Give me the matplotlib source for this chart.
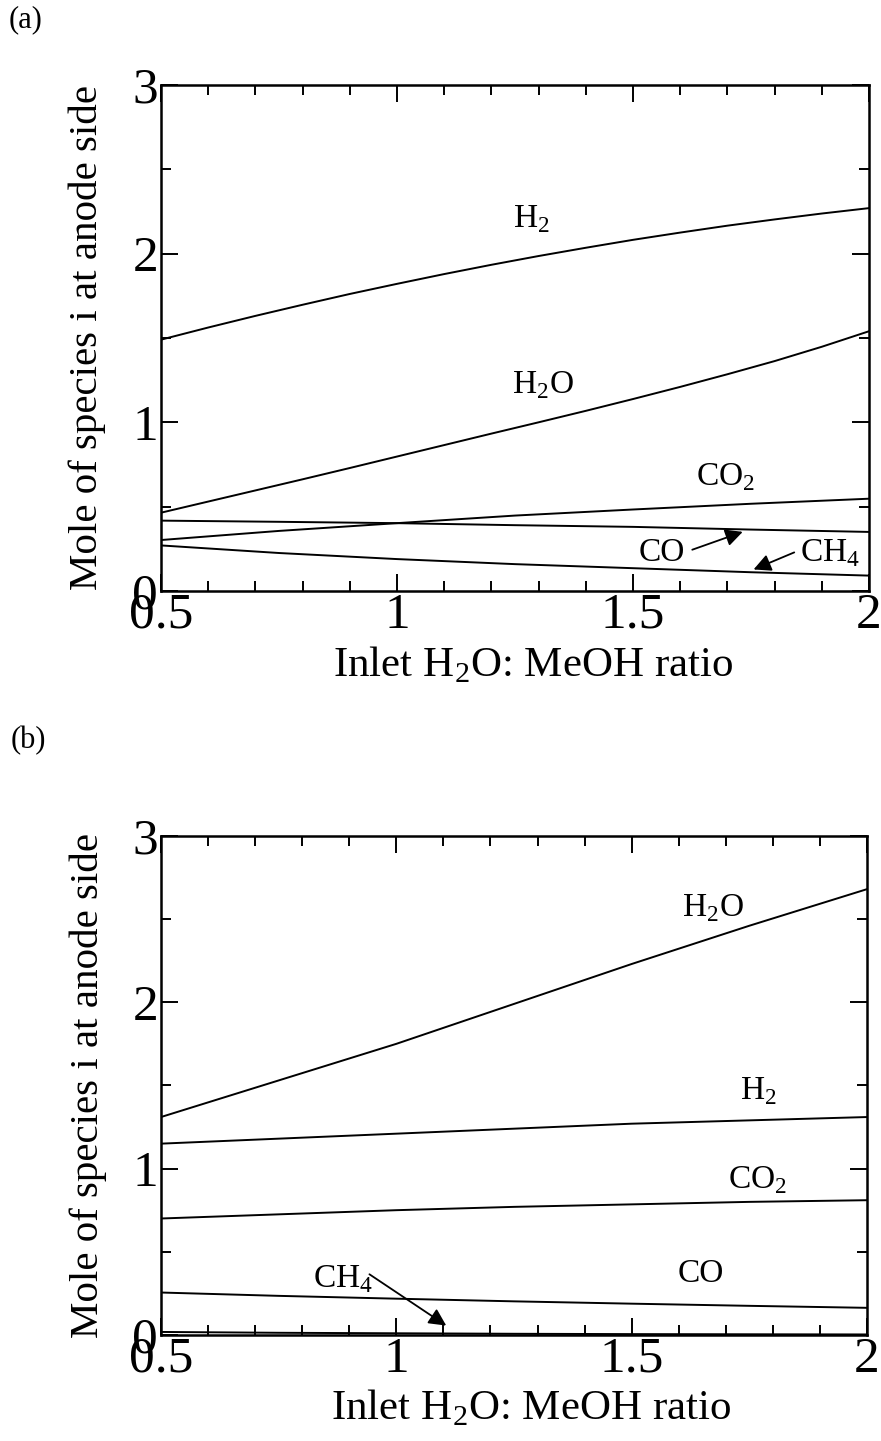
import numpy as np
import matplotlib
matplotlib.use("Agg")
import matplotlib.pyplot as plt
from matplotlib.ticker import MultipleLocator

plt.rcParams['font.family'] = ['Liberation Serif', 'DejaVu Serif']
plt.rcParams['mathtext.fontset'] = 'custom'
plt.rcParams['mathtext.rm'] = 'Liberation Serif'

# inlet H2O : MeOH ratio
ratio = [0.5, 0.75, 1.0, 1.25, 1.5, 1.75, 2.0]
ratio_f = [0.5, 0.6, 0.7, 0.8, 0.9, 1.0, 1.1, 1.2, 1.3, 1.4, 1.5, 1.6, 1.7, 1.8, 1.9, 2.0]

# (a) moles at anode side
a_h2 = [1.49, 1.562, 1.631, 1.697, 1.761, 1.821, 1.879, 1.934, 1.986, 2.035, 2.082, 2.125, 2.166, 2.203, 2.238, 2.27]
a_h2o = [0.464, 0.53, 0.596, 0.662, 0.729, 0.797, 0.865, 0.933, 1.0, 1.068, 1.138, 1.21, 1.285, 1.363, 1.448, 1.54]
a_co2 = [0.302, 0.356, 0.402, 0.447, 0.483, 0.517, 0.547]
a_co = [0.417, 0.41, 0.402, 0.39, 0.38, 0.364, 0.35]
a_ch4 = [0.27, 0.225, 0.189, 0.159, 0.135, 0.111, 0.091]

# (b) moles at anode side
b_h2o = [1.31, 1.53, 1.75, 1.99, 2.23, 2.46, 2.68]
b_h2 = [1.15, 1.18, 1.21, 1.24, 1.27, 1.29, 1.31]
b_co2 = [0.70, 0.725, 0.75, 0.77, 0.785, 0.80, 0.81]
b_co = [0.255, 0.235, 0.218, 0.202, 0.188, 0.175, 0.163]
b_ch4 = [0.018, 0.013, 0.01, 0.007, 0.005, 0.004, 0.003]

sub = lambda s: s.replace('2', r'$_\mathregular{2}$').replace('4', r'$_\mathregular{4}$')

fig = plt.figure(figsize=(8.81, 14.41), dpi=100)
ax1 = fig.add_axes([0.1827, 0.5899, 0.8037, 0.3511])
ax2 = fig.add_axes([0.1827, 0.0736, 0.8014, 0.3463])


def setup(ax):
    ax.set_xlim(0.5, 2)
    ax.set_ylim(0, 3)
    ax.xaxis.set_major_locator(MultipleLocator(0.5))
    ax.xaxis.set_minor_locator(MultipleLocator(0.1))
    ax.yaxis.set_major_locator(MultipleLocator(1))
    ax.yaxis.set_minor_locator(MultipleLocator(0.5))
    ax.xaxis.set_major_formatter(plt.FuncFormatter(lambda v, p: '%g' % v))
    ax.tick_params(which='both', direction='in', top=True, right=True, width=1.4)
    ax.tick_params(which='major', length=12, labelsize=37)
    ax.tick_params(which='minor', length=7)
    ax.tick_params(axis='x', pad=1)
    ax.tick_params(axis='y', pad=2)
    for s in ax.spines.values():
        s.set_linewidth(1.8)
    ax.set_xlabel('Inlet ' + sub('H2O') + ': MeOH ratio', fontsize=31)
    ax.set_ylabel('Mole of species i at anode side', fontsize=29.5)
    ax.xaxis.set_label_coords(0.525, -0.105)
    ax.yaxis.set_label_coords(-0.077, 0.5)


lw = 1.4
ap = dict(arrowstyle='-|>', color='k', lw=1.3, mutation_scale=26)
fs = 24

setup(ax1)
ax1.plot(ratio_f, a_h2, color='k', lw=lw)
ax1.plot(ratio_f, a_h2o, color='k', lw=lw)
for ys in [a_co2, a_co, a_ch4]:
    ax1.plot(ratio, ys, color='k', lw=lw)
ax1.text(1.284, 2.157, sub('H2'), fontsize=fs, ha='center', va='baseline')
ax1.text(1.31, 1.171, sub('H2O'), fontsize=fs, ha='center', va='baseline')
ax1.text(1.696, 0.628, sub('CO2'), fontsize=fs, ha='center', va='baseline')
ax1.text(1.562, 0.175, 'CO', fontsize=fs, ha='center', va='baseline')
ax1.text(1.918, 0.175, sub('CH4'), fontsize=fs, ha='center', va='baseline')
ax1.annotate('', xy=(1.738, 0.356), xytext=(1.62, 0.239), arrowprops=ap)
ax1.annotate('', xy=(1.75, 0.121), xytext=(1.847, 0.235), arrowprops=ap)

setup(ax2)
for ys in [b_h2o, b_h2, b_co2, b_co, b_ch4]:
    ax2.plot(ratio, ys, color='k', lw=lw)
ax2.text(1.673, 2.517, sub('H2O'), fontsize=fs, ha='center', va='baseline')
ax2.text(1.769, 1.415, sub('H2'), fontsize=fs, ha='center', va='baseline')
ax2.text(1.767, 0.882, sub('CO2'), fontsize=fs, ha='center', va='baseline')
ax2.text(1.646, 0.32, 'CO', fontsize=fs, ha='center', va='baseline')
ax2.text(0.887, 0.288, sub('CH4'), fontsize=fs, ha='center', va='baseline')
ax2.annotate('', xy=(1.111, 0.047), xytext=(0.938, 0.374), arrowprops=ap)

fig.text(9 / 881, 1 - 5 / 1441, '(a)', fontsize=22, ha='left', va='top')
fig.text(11 / 881, 1 - 726 / 1441, '(b)', fontsize=22, ha='left', va='top')

fig.savefig('out.png', dpi=100)
